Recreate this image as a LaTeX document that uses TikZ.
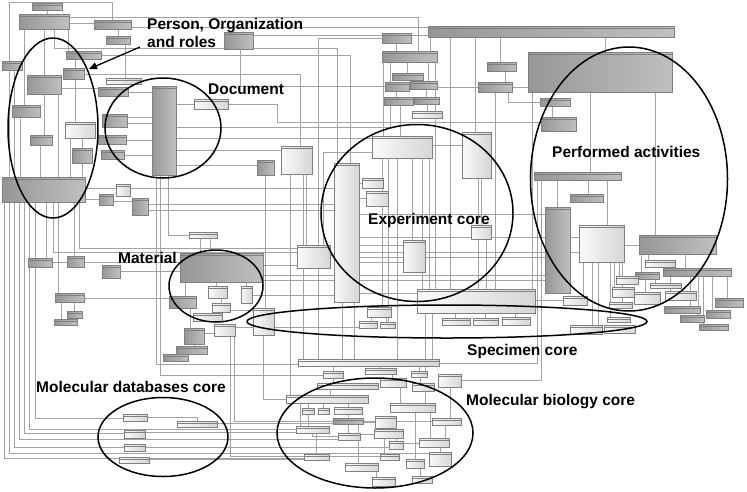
\documentclass[tikz,border=0pt]{standalone}
\usepackage{fontspec}
\setmainfont{Liberation Sans}
\usetikzlibrary{shapes.geometric,arrows.meta,calc}
\pgfdeclarelayer{bg}
\pgfsetlayers{bg,main}
\newcommand\bx[6]{\node[#6,minimum width={(#4-#2)*1pt},minimum height={(#5-#3)*1pt}] (#1) at ({(#2+#4)/2},{(#3+#5)/2}) {};}
\begin{document}
\begin{tikzpicture}[x=1pt,y=-1pt,
  ln/.style={draw=black!36,line width=0.45pt},
  bxbase/.style={draw=black!50,line width=0.4pt,inner sep=0pt,outer sep=0pt,rectangle,
    path picture={\draw[black!50,line width=0.3pt] ([yshift=-2.5pt]path picture bounding box.north west) -- ([yshift=-2.5pt]path picture bounding box.north east);}},
  dk/.style={bxbase,left color=gray!82,right color=gray!50},
  lt/.style={bxbase,left color=gray!4,right color=gray!32},
  ell/.style={ellipse,draw=black,line width=1.5pt,inner sep=0pt},
  lab/.style={font=\bfseries\fontsize{15.5}{18}\selectfont,inner sep=0pt,anchor=base west},
]
\useasboundingbox (0,0) rectangle (747,491);
% ---------- boxes ----------
\bx{p1}{32}{3}{62}{10}{dk}
\bx{p2}{19}{14}{69}{29}{dk}
\bx{p3}{94}{20}{131}{29}{dk}
\bx{p4}{106}{36}{130}{44}{dk}
\bx{p5}{2}{61}{22}{70}{dk}
\bx{p6}{66}{51}{101}{59}{dk}
\bx{p7}{63}{68}{84}{79}{dk}
\bx{p8}{27}{75}{61}{94}{dk}
\bx{p9}{106}{78}{141}{84}{lt}
\bx{p10}{98}{87}{128}{96}{dk}
\bx{p11}{12}{105}{40}{117}{dk}
\bx{p12}{65}{122}{95}{138}{lt}
\bx{p13}{102}{114}{127}{127}{dk}
\bx{p14}{30}{135}{52}{145}{dk}
\bx{p15}{98}{135}{126}{144}{dk}
\bx{p16}{72}{148}{92}{163}{dk}
\bx{p17}{101}{150}{124}{159}{dk}
\bx{p18}{224}{32}{253}{49}{dk}
\bx{d1}{152}{86}{176}{175}{dk}
\bx{d2}{194}{99}{228}{109}{lt}
\bx{org}{2}{177}{85}{202}{dk}
\bx{q1}{116}{184}{130}{196}{lt}
\bx{q2}{99}{194}{113}{205}{dk}
\bx{q3}{132}{198}{148}{215}{dk}
\bx{q4}{189}{232}{217}{238}{lt}
\bx{q5}{28}{258}{52}{267}{dk}
\bx{q6}{67}{256}{84}{267}{dk}
\bx{q7}{102}{265}{120}{278}{dk}
\bx{m1}{180}{253}{263}{282}{dk}
\bx{q8}{55}{293}{84}{302}{dk}
\bx{q9}{67}{311}{82}{318}{dk}
\bx{q10}{54}{319}{77}{325}{dk}
\bx{m2}{169}{296}{196}{308}{dk}
\bx{m3}{208}{286}{227}{298}{lt}
\bx{m4}{212}{303}{230}{312}{lt}
\bx{m5}{193}{313}{222}{321}{lt}
\bx{m6}{241}{286}{252}{303}{lt}
\bx{m7}{184}{328}{204}{344}{dk}
\bx{m8}{214}{324}{235}{336}{lt}
\bx{m9}{176}{346}{207}{354}{dk}
\bx{m10}{163}{354}{188}{361}{dk}
\bx{t0}{428}{26}{674}{37}{dk}
\bx{t1}{382}{33}{411}{43}{dk}
\bx{t2}{382}{51}{437}{62}{dk}
\bx{t3}{392}{73}{423}{80}{dk}
\bx{t4}{385}{82}{409}{91}{dk}
\bx{t5}{410}{81}{437}{89}{dk}
\bx{t6}{384}{97}{413}{105}{dk}
\bx{t7}{414}{97}{439}{104}{dk}
\bx{t8}{412}{111}{442}{118}{lt}
\bx{t9}{487}{62}{516}{71}{dk}
\bx{t10}{478}{82}{512}{92}{dk}
\bx{pa}{528}{52}{672}{92}{dk}
\bx{pa1}{540}{98}{570}{106}{dk}
\bx{pa2}{541}{117}{576}{131}{dk}
\bx{e1}{372}{136}{432}{158}{lt}
\bx{e2}{462}{132}{491}{178}{lt}
\bx{c1}{281}{146}{312}{174}{lt}
\bx{c2}{257}{160}{274}{175}{dk}
\bx{c3}{334}{163}{359}{302}{lt}
\bx{e3}{362}{178}{383}{188}{lt}
\bx{e4}{366}{191}{388}{206}{lt}
\bx{c4}{297}{245}{330}{268}{lt}
\bx{e5}{403}{240}{425}{272}{lt}
\bx{e6}{471}{225}{491}{239}{lt}
\bx{s0}{417}{289}{535}{313}{lt}
\bx{s1}{367}{307}{391}{317}{lt}
\bx{s2}{359}{321}{377}{328}{lt}
\bx{s3}{380}{322}{395}{328}{lt}
\bx{s4}{442}{318}{470}{325}{lt}
\bx{s5}{473}{318}{498}{325}{lt}
\bx{s6}{253}{308}{274}{335}{lt}
\bx{s7}{502}{317}{530}{325}{lt}
\bx{r0}{534}{172}{621}{180}{dk}
\bx{r1}{570}{194}{603}{202}{dk}
\bx{r2}{545}{207}{570}{293}{dk}
\bx{r3}{579}{225}{624}{262}{lt}
\bx{r4}{639}{235}{716}{254}{dk}
\bx{r5}{645}{260}{675}{267}{lt}
\bx{r6}{635}{272}{659}{279}{dk}
\bx{r7}{663}{268}{731}{276}{dk}
\bx{r8}{616}{276}{638}{284}{lt}
\bx{r9}{650}{283}{681}{288}{lt}
\bx{r10}{612}{287}{634}{297}{lt}
\bx{r11}{634}{292}{660}{304}{lt}
\bx{r12}{665}{291}{696}{300}{lt}
\bx{r13}{563}{296}{587}{305}{lt}
\bx{r14}{609}{302}{632}{308}{lt}
\bx{r15}{664}{306}{700}{313}{dk}
\bx{r16}{715}{298}{743}{307}{dk}
\bx{r17}{706}{310}{730}{318}{dk}
\bx{r18}{680}{315}{704}{322}{dk}
\bx{r19}{699}{324}{728}{330}{dk}
\bx{r20}{607}{317}{630}{322}{lt}
\bx{r21}{570}{325}{602}{334}{lt}
\bx{r22}{604}{325}{635}{333}{lt}
\bx{b0}{298}{359}{439}{366}{lt}
\bx{b1}{323}{371}{343}{378}{lt}
\bx{b2}{365}{368}{396}{374}{lt}
\bx{b3}{411}{371}{427}{377}{lt}
\bx{b4}{438}{374}{461}{387}{lt}
\bx{b5}{317}{383}{378}{389}{lt}
\bx{b6}{380}{378}{406}{387}{lt}
\bx{b7}{412}{383}{434}{391}{lt}
\bx{b8}{286}{395}{368}{403}{lt}
\bx{b9}{302}{408}{314}{414}{lt}
\bx{b10}{318}{408}{329}{414}{lt}
\bx{b11}{334}{407}{362}{414}{lt}
\bx{b12}{333}{418}{363}{424}{dk}
\bx{b13}{390}{403}{435}{412}{lt}
\bx{b14}{432}{418}{461}{425}{lt}
\bx{b15}{375}{416}{396}{428}{lt}
\bx{b16}{296}{426}{329}{433}{lt}
\bx{b17}{338}{433}{360}{440}{lt}
\bx{b18}{374}{429}{403}{438}{lt}
\bx{b19}{389}{441}{403}{449}{lt}
\bx{b20}{419}{438}{449}{447}{lt}
\bx{b21}{429}{452}{451}{466}{lt}
\bx{b22}{304}{454}{329}{460}{lt}
\bx{b23}{380}{454}{399}{460}{lt}
\bx{b24}{345}{463}{378}{471}{lt}
\bx{b25}{406}{459}{424}{468}{lt}
\bx{b26}{372}{477}{395}{486}{lt}
\bx{b27}{412}{476}{432}{483}{lt}
\bx{g1}{123}{414}{147}{421}{lt}
\bx{g2}{177}{421}{217}{427}{lt}
\bx{g3}{124}{430}{145}{438}{lt}
\bx{g4}{124}{444}{145}{451}{lt}
\bx{g5}{119}{457}{149}{463}{lt}
% ---------- connectors ----------
\begin{pgfonlayer}{bg}
\fill[white] (0,0) rectangle (747,491);
\draw[ln] (p3.north) |- (9,2) -- (9,0 |- org.north);
\draw[ln] (p1.south) -- (p1.south |- p2.north);
\draw[ln] (p2.east |- 0,23) -- (p3.west |- 0,23);
\draw[ln] (p3.south -| 118,0) -- (118,0 |- p4.north);
\draw[ln] (p2.east |- 0,17) -| (418,0 |- t2.north);
\draw[ln] (p3.east |- 0,27) -- (t0.west |- 0,27);
\draw[ln] (p18.east |- 0,35) -- (t0.west |- 0,35);
\draw[ln] (p2.south -| 24,0) -- (24,0 |- p11.north);
\draw[ln] (p2.south -| 44,0) -- (44,0 |- p8.north);
\draw[ln] (p2.south -| 54,0) |- (337,48) -- (337,0 |- c3.north);
\draw[ln] (p2.south -| 68,0) -- (68,0 |- p6.north);
\draw[ln] (p6.south -| 75,0) -- (75,0 |- p7.north);
\draw[ln] (p7.south -| 75,0) -- (75,0 |- p12.north);
\draw[ln] (p7.east |- 0,74) -| (300,0 |- c1.north);
\draw[ln] (p8.south -| 44,0) -- (44,0 |- p14.north);
\draw[ln] (p8.east |- 0,88) -- (p10.west |- 0,88);
\draw[ln] (p9.north -| 125,0) -- (125,0 |- p4.south);
\draw[ln] (p10.east |- 0,92) -- (d1.west |- 0,92);
\draw[ln] (p13.east |- 0,117) -- (d1.west |- 0,117);
\draw[ln] (p13.east |- 0,123) -- (d1.west |- 0,123);
\draw[ln] (p15.east |- 0,140) -- (d1.west |- 0,140);
\draw[ln] (p17.east |- 0,155) -- (d1.west |- 0,155);
\draw[ln] (p12.south -| 82,0) -- (82,0 |- p16.north);
\draw[ln] (p14.south -| 40,0) -- (40,0 |- org.north);
\draw[ln] (p11.south -| 20,0) -- (20,0 |- org.north);
\draw[ln] (p5.south -| 14,0) -- (14,0 |- org.north);
\draw[ln] (p16.south -| 82,0) -- (82,0 |- org.north);
\draw[ln] (p8.south -| 58,0) -- (58,0 |- org.north);
\draw[ln] (p12.south -| 70,0) -- (70,0 |- org.north);
\draw[ln] (d2.west) -- (d1.east |- d2.west);
\draw[ln] (d1.east |- 0,127) -| (390,0 |- t6.south);
\draw[ln] (d1.east |- 0,138) -- (e1.west |- 0,138);
\draw[ln] (d1.east |- 0,150) -- (c1.west |- 0,150);
\draw[ln] (d1.east |- 0,165) -- (c2.west |- 0,165);
\draw[ln] (d1.south -| 156,0) |- (b0.west |- 0,364);
\draw[ln] (d1.south -| 160,0) |- (b1.west |- 0,375);
\draw[ln] (d1.south -| 168,0) |- (q4.west);
\draw[ln] (d2.east |- 0,104) -| (277,122) -- (pa2.west |- 0,122);
\draw[ln] (p18.south -| 240,0) |- (t4.west |- 0,86);
\draw[ln] (p6.east |- 0,55) -| (350,0 |- c3.north);
\draw[ln] (t1.west |- 0,38) -| (318,0 |- c4.north);
\draw[ln] (e1.west |- 0,152) -| (323,0 |- c4.north);
% organization
\draw[ln] (org.east |- 0,188) -- (q1.west |- 0,188);
\draw[ln] (q1.east |- 0,188) -- (c3.west |- 0,188);
\draw[ln] (org.east |- 0,199) -- (q2.west |- 0,199);
\draw[ln] (q2.east |- 0,201) -- (q3.west |- 0,201);
\draw[ln] (q3.east |- 0,210) -- (c3.west |- 0,210);
\draw[ln] (q3.east |- 0,204) -- (c3.west |- 0,204);
\draw[ln] (org.south -| 4,0) |- (b22.west |- 0,458);
\draw[ln] (org.south -| 9,0) |- (b21.west |- 0,453);
\draw[ln] (org.south -| 14,0) |- (g4.west |- 0,447);
\draw[ln] (org.south -| 19,0) |- (b17.west |- 0,439);
\draw[ln] (org.south -| 24,0) |- (g3.west |- 0,433);
\draw[ln] (org.south -| 29,0) |- (b16.west |- 0,429);
\draw[ln] (org.south -| 35,0) |- (g1.west |- 0,418);
\draw[ln] (org.south -| 46,0) -- (46,0 |- q5.north);
\draw[ln] (org.south -| 58,0) -- (58,0 |- q8.north);
\draw[ln] (org.south -| 74,0) -- (74,0 |- q6.north);
\draw[ln] (org.south -| 79,0) |- (c4.west |- 0,248);
\draw[ln] (org.south -| 53,0) |- (c4.west |- 0,252);
\draw[ln] (q8.south -| 74,0) -- (74,0 |- q9.north);
\draw[ln] (q8.south -| 61,0) -- (61,0 |- q10.north);
\draw[ln] (q8.east |- 0,298) -- (m2.west |- 0,298);
\draw[ln] (q5.east |- 0,262) -- (q6.west |- 0,262);
\draw[ln] (q6.east |- 0,262) -- (m1.west |- 0,262);
\draw[ln] (q7.east |- 0,271) -- (m1.west |- 0,271);
\draw[ln] (q4.south -| 200,0) -- (200,0 |- m1.north);
\draw[ln] (q4.south -| 210,0) -- (210,0 |- m1.north);
% material
\draw[ln] (m2.north -| 185,0) -- (185,0 |- m1.south);
\draw[ln] (m3.north -| 216,0) -- (216,0 |- m1.south);
\draw[ln] (m3.south -| 221,0) -- (221,0 |- m4.north);
\draw[ln] (m6.north -| 246,0) -- (246,0 |- m1.south);
\draw[ln] (m2.south -| 190,0) -- (190,0 |- m7.north);
\draw[ln] (m7.east |- 0,333) -- (m8.west |- 0,333);
\draw[ln] (m7.south -| 194,0) -- (194,0 |- m9.north);
\draw[ln] (m9.south -| 181,0) -- (181,0 |- m10.north);
\draw[ln] (m6.east |- 0,295) -- (c3.west |- 0,295);
\draw[ln] (m4.east |- 0,310) -- (s6.west |- 0,310);
\draw[ln] (m8.east |- 0,327) -- (s2.west |- 0,327);
\draw[ln] (m8.south -| 230,0) |- (b23.west |- 0,456);
\draw[ln] (m8.south -| 234,0) |- (b14.west |- 0,421);
% experiment core
\draw[ln] (c3.east |- 0,183) -- (e3.west |- 0,183);
\draw[ln] (c3.east |- 0,198) -- (e4.west |- 0,198);
\draw[ln] (c3.east |- 0,214) -- (r2.west |- 0,214);
\draw[ln] (c3.east |- 0,237) -- (r3.west |- 0,237);
\draw[ln] (c3.east |- 0,245) -- (e5.west |- 0,245);
\draw[ln] (c3.east |- 0,252) -- (r3.west |- 0,252);
\draw[ln] (c3.east |- 0,257) -- (r2.west |- 0,257);
\draw[ln] (c3.east |- 0,262) -- (e5.west |- 0,262);
\draw[ln] (c3.east |- 0,275) -- (r2.west |- 0,275);
\draw[ln] (c3.east |- 0,280) -- (r2.west |- 0,280);
\draw[ln] (c3.east |- 0,293) -- (s0.west |- 0,293);
\draw[ln] (c4.east |- 0,255) -- (c3.west |- 0,255);
\draw[ln] (m1.east |- 0,265) -- (c4.west |- 0,265);
\draw[ln] (m1.east |- 0,275) -- (c3.west |- 0,275);
\draw[ln] (m1.east |- 0,280) -- (c3.west |- 0,280);
\draw[ln] (e1.south -| 382,0) -- (382,0 |- s1.north);
\draw[ln] (e1.south -| 388,0) -- (388,0 |- s3.north);
\draw[ln] (e1.south -| 397,0) -- (397,0 |- b0.north);
\draw[ln] (e1.south -| 412,0) -- (412,0 |- e5.north);
\draw[ln] (e1.south -| 422,0) -- (422,0 |- s0.north);
\draw[ln] (e1.south -| 429,0) -- (429,0 |- s0.north);
\draw[ln] (e1.north -| 400,0) -- (400,0 |- t6.south);
\draw[ln] (t2.south -| 383,0) -- (383,0 |- e1.north);
\draw[ln] (e1.east |- 0,145) -- (e2.west |- 0,145);
\draw[ln] (e2.south -| 478,0) -- (478,0 |- s0.north);
\draw[ln] (e2.north -| 475,0) -- (475,0 |- t0.south);
\draw[ln] (t2.south -| 435,0) -- (435,0 |- s0.north);
\draw[ln] (t0.south -| 450,0) -- (450,0 |- s0.north);
\draw[ln] (e6.south -| 486,0) -- (486,0 |- s0.north);
\draw[ln] (e6.north -| 481,0) -- (481,0 |- e2.south);
\draw[ln] (c3.south -| 342,0) -- (342,0 |- b0.north);
\draw[ln] (c3.south -| 354,0) -- (354,0 |- b0.north);
\draw[ln] (c1.south -| 290,0) -- (290,0 |- b8.north);
\draw[ln] (c1.south -| 303,0) -- (303,0 |- b0.north);
\draw[ln] (c2.south -| 265,0) -- (265,0 |- s6.north);
\draw[ln] (s6.south -| 263,0) |- (b8.west |- 0,399);
\draw[ln] (c4.south -| 318,0) -- (318,0 |- b0.north);
\draw[ln] (c4.north -| 306,0) -- (306,0 |- c1.south);
% top and performed activities
\draw[ln] (pa.north -| 605,0) -- (605,0 |- t0.south);
\draw[ln] (pa.south -| 532,0) -- (532,0 |- s0.north);
\draw[ln] (pa.south -| 590,0) -- (590,0 |- r0.north);
\draw[ln] (pa.south -| 655,0) -- (655,0 |- r4.north);
\draw[ln] (pa2.north -| 552,0) -- (552,0 |- pa1.south);
\draw[ln] (t10.east) -- (pa.west |- t10.east);
\draw[ln] (t9.south -| 505,0) -- (505,0 |- t10.north);
\draw[ln] (t9.north -| 500,0) -- (500,0 |- t0.south);
\draw[ln] (t10.south -| 495,0) -- (495,0 |- s0.north);
\draw[ln] (t10.south -| 508,0) |- (pa1.west);
\draw[ln] (t10.west) -- (t5.east |- t10.west);
\draw[ln] (t2.north -| 430,0) -- (430,0 |- t0.south);
\draw[ln] (t1.south -| 396,0) -- (396,0 |- t2.north);
\draw[ln] (t2.south -| 407,0) -- (407,0 |- t3.north);
\draw[ln] (t2.south -| 390,0) -- (390,0 |- t4.north);
\draw[ln] (t2.south -| 428,0) -- (428,0 |- t5.north);
\draw[ln] (t4.south -| 396,0) -- (396,0 |- t6.north);
\draw[ln] (t5.south -| 426,0) -- (426,0 |- t7.north);
\draw[ln] (t7.south -| 427,0) -- (427,0 |- t8.north);
\draw[ln] (r1.north -| 588,0) -- (588,0 |- r0.south);
\draw[ln] (r2.north -| 557,0) -- (557,0 |- r0.south);
\draw[ln] (r3.north -| 607,0) -- (607,0 |- r0.south);
\draw[ln] (r0.south -| 537,0) |- (b0.east |- 0,363);
\draw[ln] (r0.south -| 541,0) |- (b4.east |- 0,380);
\draw[ln] (r3.south -| 583,0) -- (583,0 |- r13.north);
\draw[ln] (r3.south -| 592,0) -- (592,0 |- r21.north);
\draw[ln] (r3.south -| 598,0) -- (598,0 |- r21.north);
\draw[ln] (r3.south -| 610,0) -- (610,0 |- r20.north);
\draw[ln] (r3.south -| 614,0) -- (614,0 |- r10.north);
\draw[ln] (r3.south -| 619,0) -- (619,0 |- r8.north);
\draw[ln] (r3.south -| 622,0) -- (622,0 |- r14.north);
\draw[ln] (r4.south -| 648,0) -- (648,0 |- r5.north);
\draw[ln] (r4.south -| 641,0) -- (641,0 |- r6.north);
\draw[ln] (r4.south -| 685,0) -- (685,0 |- r7.north);
\draw[ln] (r7.south -| 670,0) -- (670,0 |- r12.north);
\draw[ln] (r7.south -| 690,0) -- (690,0 |- r15.north);
\draw[ln] (r7.south -| 698,0) -- (698,0 |- r18.north);
\draw[ln] (r7.south -| 703,0) -- (703,0 |- r19.north);
\draw[ln] (r7.south -| 712,0) -- (712,0 |- r17.north);
\draw[ln] (r7.south -| 727,0) -- (727,0 |- r16.north);
\draw[ln] (r6.south -| 655,0) -- (655,0 |- r9.north);
\draw[ln] (r6.south -| 645,0) -- (645,0 |- r11.north);
\draw[ln] (s0.east |- 0,300) -- (r13.west |- 0,300);
\draw[ln] (r3.east |- 0,245) -- (r4.west |- 0,245);
% specimen
\draw[ln] (s0.south -| 455,0) -- (455,0 |- s4.north);
\draw[ln] (s0.south -| 485,0) -- (485,0 |- s5.north);
\draw[ln] (s7.north -| 515,0) -- (515,0 |- s0.south);
\draw[ln] (s1.south -| 371,0) -- (371,0 |- s2.north);
\draw[ln] (s1.south -| 386,0) -- (386,0 |- s3.north);
\draw[ln] (s0.south -| 425,0) -- (425,0 |- b3.north);
\draw[ln] (s0.south -| 432,0) -- (432,0 |- b0.north);
% molecular biology
\draw[ln] (b0.south -| 333,0) -- (333,0 |- b1.north);
\draw[ln] (b0.south -| 380,0) -- (380,0 |- b2.north);
\draw[ln] (b0.south -| 419,0) -- (419,0 |- b3.north);
\draw[ln] (b2.south -| 392,0) -- (392,0 |- b6.north);
\draw[ln] (b3.south -| 420,0) -- (420,0 |- b7.north);
\draw[ln] (b1.south -| 333,0) -- (333,0 |- b5.north);
\draw[ln] (b5.south -| 330,0) -- (330,0 |- b8.north);
\draw[ln] (b9.north) -- (b9.north |- b8.south);
\draw[ln] (b10.north) -- (b10.north |- b8.south);
\draw[ln] (b11.north) -- (b11.north |- b8.south);
\draw[ln] (b11.south) -- (b11.south |- b12.north);
\draw[ln] (b8.south -| 300,0) -- (300,0 |- b16.north);
\draw[ln] (b16.south -| 316,0) -- (316,0 |- b22.north);
\draw[ln] (b12.south -| 348,0) -- (348,0 |- b17.north);
\draw[ln] (b12.south -| 358,0) -- (358,0 |- b24.north);
\draw[ln] (b15.south) -- (b15.south |- b18.north);
\draw[ln] (b6.south -| 400,0) -- (400,0 |- b13.north);
\draw[ln] (b7.south -| 425,0) -- (425,0 |- b13.north);
\draw[ln] (b4.south -| 450,0) -- (450,0 |- b14.north);
\draw[ln] (b13.south -| 430,0) -- (430,0 |- b20.north);
\draw[ln] (b14.south -| 445,0) -- (445,0 |- b20.north);
\draw[ln] (b20.south -| 440,0) -- (440,0 |- b21.north);
\draw[ln] (b18.south -| 396,0) -- (396,0 |- b19.north);
\draw[ln] (b18.south -| 384,0) -- (384,0 |- b23.north);
\draw[ln] (b13.south -| 415,0) -- (415,0 |- b25.north);
\draw[ln] (b26.north -| 376,0) -- (376,0 |- b24.south);
\draw[ln] (b25.south -| 420,0) -- (420,0 |- b27.north);
\draw[ln] (b9.south) -- (b9.south |- b16.north);
\draw[ln] (b17.west |- 0,436) -| (312,0 |- b16.south);
\draw[ln] (b15.west |- 0,422) -- (b12.east |- 0,422);
\draw[ln] (b18.west |- 0,434) -- (b17.east |- 0,434);
\draw[ln] (b20.west |- 0,443) -- (b19.east |- 0,443);
% molecular databases
\draw[ln] (g1.east) -| (197,0 |- g2.north);
\draw[ln] (g2.east |- 0,423) -- (b12.west |- 0,423);
\draw[ln] (g3.east |- 0,432) -- (b16.west |- 0,432);
\draw[ln] (g4.east |- 0,447) -- (b19.west |- 0,447);
\draw[ln] (g5.east |- 0,459) -- (b22.west |- 0,459);
\end{pgfonlayer}
% ---------- ellipses ----------
\node[ell,minimum width=90pt,minimum height=180pt] (ePer) at (53,128) {};
\node[ell,minimum width=116pt,minimum height=100pt] (eDoc) at (163,128) {};
\node[ell,minimum width=192pt,minimum height=177pt] (eExp) at (417,213) {};
\node[ell,minimum width=197pt,minimum height=264pt] (eAct) at (629,179) {};
\node[ell,minimum width=94pt,minimum height=72pt] (eMat) at (216,286) {};
\node[ell,minimum width=400pt,minimum height=33pt] (eSpec) at (447,321.5) {};
\node[ell,minimum width=130pt,minimum height=79pt] (eMdb) at (163,437) {};
\node[ell,minimum width=196pt,minimum height=110pt] (eMbio) at (375,433) {};
% ---------- labels ----------
\node[lab] (l1) at (147,29) {Person, Organization};
\node[lab] (l1b) at (147,47) {and roles};
\node[lab] (l2) at (208,94) {Document};
\node[lab] (l3) at (552,157) {Performed activities};
\node[lab] (l4) at (368,224) {Experiment core};
\node[lab] (l5) at (118,263) {Material};
\node[lab] (l6) at (467,355) {Specimen core};
\node[lab] (l7) at (36,392) {Molecular databases core};
\node[lab] (l8) at (466,405) {Molecular biology core};
\coordinate (atip) at (89,69);
\draw[-{Triangle[length=8pt,width=7pt]},line width=1.3pt] ($(l1b.base west)+(-7,0)$) -- (atip);
\end{tikzpicture}
\end{document}
